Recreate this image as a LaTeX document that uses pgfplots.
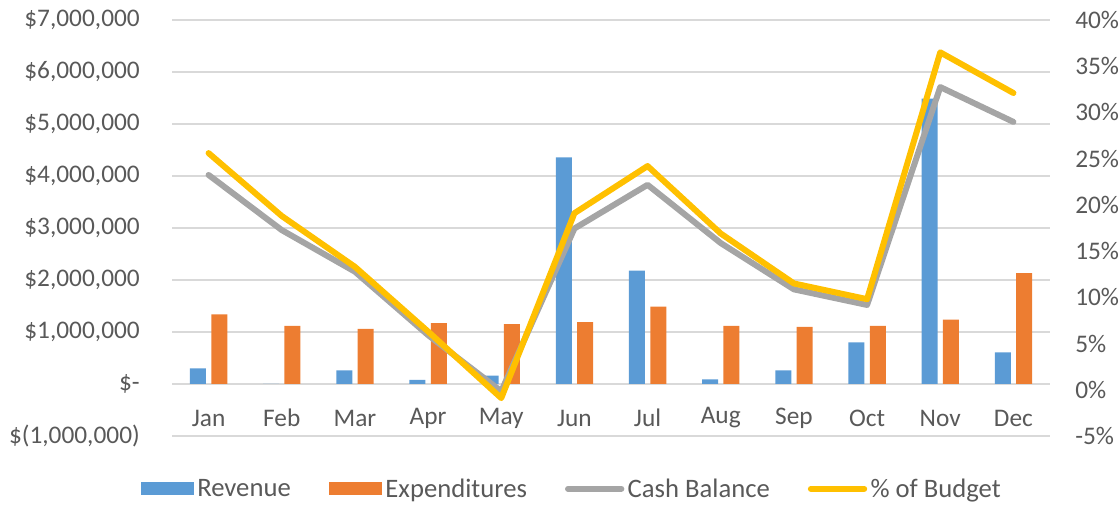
\documentclass[border=0pt]{standalone}
\usepackage{pgfplots}
\pgfplotsset{compat=1.18}
\usepackage{fontspec}
\setmainfont{Carlito}
\definecolor{cRev}{HTML}{5B9BD5}
\definecolor{cExp}{HTML}{ED7D31}
\definecolor{cCash}{HTML}{A5A5A5}
\definecolor{cBud}{HTML}{FFC000}
\definecolor{cGrid}{HTML}{D9D9D9}
\definecolor{cText}{HTML}{595959}
\begin{document}
\begin{tikzpicture}
\useasboundingbox (0,0) rectangle (840pt,378.75pt);
\pgfplotsset{
  base/.style={
    scale only axis,
    width=658.5pt, height=312pt,
    at={(129pt,51.75pt)}, anchor=south west,
    xmin=-0.5, xmax=11.5,
    tick style={draw=none},
    major tick length=0pt,
    font=\fontsize{19}{22}\selectfont,
    tick label style={text=cText},
  }
}
\begin{axis}[base,
  ymin=-1000000, ymax=7000000,
  ytick={-1000000,0,1000000,2000000,3000000,4000000,5000000,6000000,7000000},
  yticklabels={\$(1{,}000{,}000),\$-,\$1{,}000{,}000,\$2{,}000{,}000,\$3{,}000{,}000,\$4{,}000{,}000,\$5{,}000{,}000,\$6{,}000{,}000,\$7{,}000{,}000},
  scaled y ticks=false,
  yticklabel style={anchor=east, inner sep=0pt, xshift=-24pt},
  xtick={0,1,2,3,4,5,6,7,8,9,10,11},
  xticklabels={Jan,Feb,Mar,Apr,May,Jun,Jul,Aug,Sep,Oct,Nov,Dec},
  xticklabel style={anchor=center, inner sep=0pt, yshift=13.5pt},
  axis line style={draw=none},
  ymajorgrids,
  grid style={cGrid, line width=0.9pt},
  legend columns=4,
  legend style={draw=none, fill=none, at={(0.456,-0.127)}, anchor=center,
    font=\fontsize{20}{23}\selectfont, text=cText,
    nodes={inner sep=2.5pt},
    /tikz/every odd column/.append style={column sep=0pt},
    /tikz/every even column/.append style={column sep=26pt},
    cells={anchor=west}},
]
\addplot[ybar, bar width=12pt, bar shift=-8pt, fill=cRev, draw=none,
  legend image code/.code={\fill[cRev] (0pt,-5pt) rectangle (40pt,5pt);}]
  coordinates {(0,300000) (1,0) (2,260000) (3,80000) (4,160000) (5,4360000) (6,2180000) (7,90000) (8,260000) (9,800000) (10,5490000) (11,610000)};
\addlegendentry{Revenue}
\addplot[ybar, bar width=12pt, bar shift=8pt, fill=cExp, draw=none,
  legend image code/.code={\fill[cExp] (0pt,-5pt) rectangle (40pt,5pt);}]
  coordinates {(0,1340000) (1,1120000) (2,1060000) (3,1170000) (4,1150000) (5,1190000) (6,1490000) (7,1120000) (8,1100000) (9,1120000) (10,1240000) (11,2130000)};
\addlegendentry{Expenditures}
\addplot[cCash, line width=4.5pt, line join=round, line cap=round, mark=none,
  legend image code/.code={\draw[cCash, line width=4.5pt, line cap=round] (2pt,0pt) -- (42pt,0pt);}]
  coordinates {(0,4020000) (1,2960000) (2,2160000) (3,940000) (4,-140000) (5,2990000) (6,3830000) (7,2710000) (8,1820000) (9,1520000) (10,5710000) (11,5040000)};
\addlegendentry{Cash Balance}
\addlegendimage{legend image code/.code={\draw[cBud, line width=4.5pt, line cap=round] (2pt,0pt) -- (42pt,0pt);}}
\addlegendentry{\% of Budget}
\end{axis}
\begin{axis}[base,
  ymin=-5, ymax=40,
  axis x line=none,
  axis y line*=right,
  axis line style={draw=none},
  ytick={-5,0,5,10,15,20,25,30,35,40},
  yticklabels={-5\%,0\%,5\%,10\%,15\%,20\%,25\%,30\%,35\%,40\%},
  yticklabel style={anchor=west, inner sep=0pt, xshift=18.75pt},
]
\addplot[cBud, line width=4.5pt, line join=round, line cap=round, mark=none]
  coordinates {(0,25.6) (1,18.8) (2,13.3) (3,6.3) (4,-0.9) (5,19.1) (6,24.2) (7,16.9) (8,11.5) (9,9.8) (10,36.5) (11,32.1)};
\end{axis}
\end{tikzpicture}
\end{document}
